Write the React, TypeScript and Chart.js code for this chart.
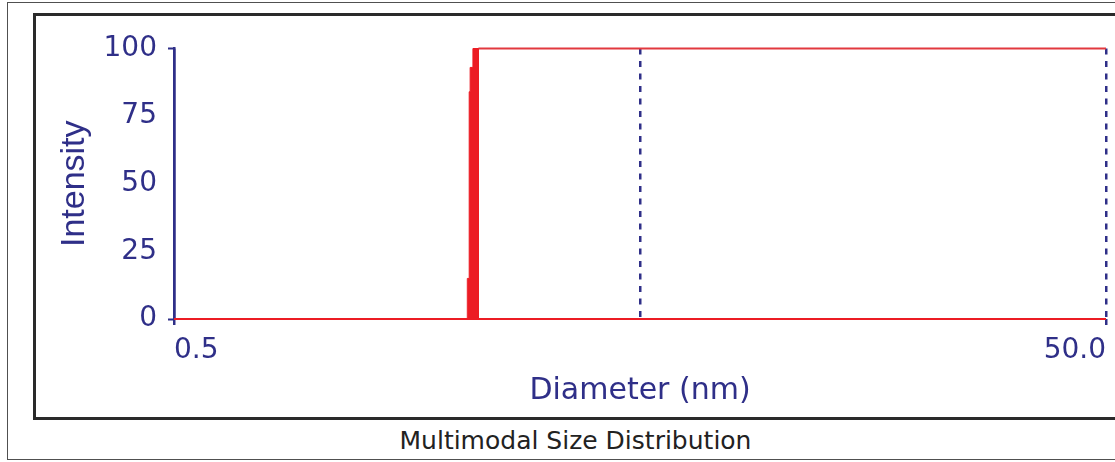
import React, { useEffect, useRef } from 'react';
import { Chart, registerables } from 'chart.js';

Chart.register(...registerables);

// ---- data ----
const baselineDiameters = [0.5, 50];
const baselineIntensity = [0, 0];

const spikeDiameters = [2.13, 2.13, 2.15, 2.15, 2.16, 2.16, 2.19, 2.19, 2.25, 2.25];
const spikeIntensity = [0, 15, 15, 84, 84, 93, 93, 100, 100, 0];

const gapDiameters = [2.235, 2.235];
const gapIntensity = [61, 84];

const plateauDiameters = [2.25, 50];
const plateauIntensity = [100, 100];

const xTickValues = [0.5, 5, 50];
const xTickLabels = ['0.5', '', '50.0'];
const yTickValues = [0, 25, 50, 75, 100];

const xTitle = 'Diameter (nm)';
const yTitle = 'Intensity';
const caption = 'Multimodal Size Distribution';

const navy = '#2f2f88';
const red = '#ec1c24';
const clear = 'rgba(0,0,0,0)';

const pts = (xs: number[], ys: number[]) => xs.map((x, i) => ({ x, y: ys[i] }));

export default function App() {
  const canvasRef = useRef<HTMLCanvasElement | null>(null);

  useEffect(() => {
    if (!canvasRef.current) return;
    const chart = new Chart(canvasRef.current, {
      type: 'scatter',
      data: {
        datasets: [
          {
            label: 'baseline',
            data: pts(baselineDiameters, baselineIntensity),
            showLine: true,
            borderColor: red,
            borderWidth: 2,
            pointRadius: 0,
            clip: 4,
          },
          {
            label: 'spike',
            data: pts(spikeDiameters, spikeIntensity),
            showLine: true,
            borderColor: red,
            backgroundColor: red,
            borderWidth: 1,
            fill: 'origin',
            pointRadius: 0,
            clip: 4,
          },
          {
            label: 'gap',
            data: pts(gapDiameters, gapIntensity),
            showLine: true,
            borderColor: '#ffffff',
            borderWidth: 2,
            pointRadius: 0,
          },
          {
            label: 'plateau',
            data: pts(plateauDiameters, plateauIntensity),
            showLine: true,
            borderColor: '#e2393f',
            borderWidth: 1.8,
            pointRadius: 0,
            clip: 4,
          },
        ],
      },
      options: {
        animation: false,
        responsive: true,
        maintainAspectRatio: false,
        layout: { padding: { top: 48.5, left: 0, right: 7.5, bottom: 0 } },
        plugins: { legend: { display: false }, tooltip: { enabled: false } },
        scales: {
          x: {
            type: 'logarithmic',
            min: 0.5,
            max: 50,
            afterBuildTicks: (s: any) => {
              s.ticks = xTickValues.map((v) => ({ value: v }));
            },
            afterFit: (s: any) => {
              s.height = 143;
            },
            ticks: {
              align: 'inner',
              autoSkip: false,
              maxRotation: 0,
              padding: 9,
              color: navy,
              font: { family: '"DejaVu Sans"', size: 28 },
              callback: (_v: any, i: number) => xTickLabels[i],
            },
            grid: {
              color: navy,
              lineWidth: 2.5,
              tickLength: 6,
              tickWidth: 2.5,
              tickColor: (ctx: any) => (ctx.index === 1 ? clear : navy),
            },
            border: {
              display: false,
              dash: (ctx: any) => (ctx.index === 0 ? [] : [6, 6.5]),
            },
            title: {
              display: true,
              text: xTitle,
              color: navy,
              font: { family: '"DejaVu Sans"', size: 30 },
              padding: { top: 0, bottom: 53 },
            },
          },
          y: {
            min: 0,
            max: 100,
            afterBuildTicks: (s: any) => {
              s.ticks = yTickValues.map((v) => ({ value: v }));
            },
            afterFit: (s: any) => {
              s.width = 174;
            },
            ticks: {
              padding: 11,
              color: navy,
              font: { family: '"DejaVu Sans"', size: 28 },
            },
            grid: {
              drawOnChartArea: false,
              tickLength: 6,
              tickWidth: 2,
              tickColor: (ctx: any) =>
                ctx.tick && (ctx.tick.value === 0 || ctx.tick.value === 100) ? navy : clear,
            },
            border: { color: navy, width: 2.5 },
            title: {
              display: true,
              text: yTitle,
              color: navy,
              font: { family: '"Liberation Sans", Arial', size: 34 },
              padding: { top: 54, bottom: 0 },
            },
          },
        },
      } as any,
    });
    return () => chart.destroy();
  }, []);

  return (
    <div
      style={{
        position: 'absolute',
        left: 0,
        top: 0,
        width: 1115,
        height: 462,
        overflow: 'hidden',
        background: '#ffffff',
      }}
    >
      <div
        style={{
          position: 'absolute',
          left: 7,
          top: 2,
          width: 1115,
          height: 456,
          borderTop: '1px solid #505050',
          borderLeft: '1px solid #505050',
          borderBottom: '1px solid #505050',
        }}
      />
      <div
        style={{
          position: 'absolute',
          left: 33,
          top: 13,
          width: 1115,
          height: 401,
          borderTop: '3px solid #2a2a2a',
          borderLeft: '3px solid #2a2a2a',
          borderBottom: '3px solid #2a2a2a',
        }}
      />
      <div
        style={{
          position: 'absolute',
          left: 36,
          width: 1079,
          top: 427,
          height: 28,
          lineHeight: '28px',
          textAlign: 'center',
          fontFamily: '"DejaVu Sans", sans-serif',
          fontSize: 25,
          color: '#222222',
        }}
      >
        {caption}
      </div>
      <div style={{ position: 'absolute', left: 0, top: 0, width: 1115, height: 462 }}>
        <canvas ref={canvasRef} />
      </div>
    </div>
  );
}
